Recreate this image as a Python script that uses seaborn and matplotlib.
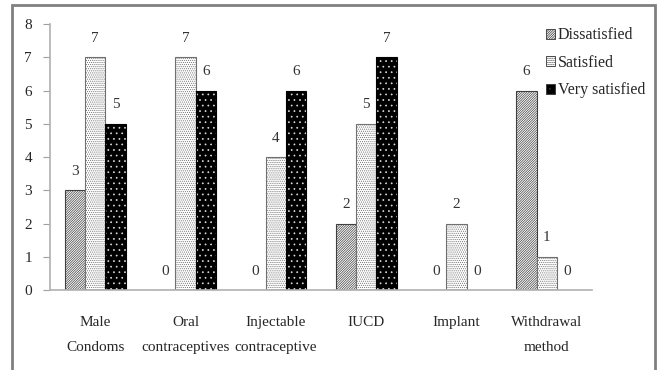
import matplotlib
matplotlib.use("Agg")
import matplotlib.pyplot as plt
from matplotlib.patches import Rectangle
import seaborn as sns
import pandas as pd

# data
methods = ["Male\nCondoms", "Oral\ncontraceptives", "Injectable\ncontraceptive",
           "IUCD", "Implant", "Withdrawal\nmethod"]
levels = ["Dissatisfied", "Satisfied", "Very satisfied"]
dissatisfied = [3, 0, 0, 2, 0, 6]
satisfied = [7, 7, 4, 5, 2, 1]
very_satisfied = [5, 6, 6, 7, 0, 0]

df = pd.DataFrame({
    "method": methods * 3,
    "level": [levels[0]] * 6 + [levels[1]] * 6 + [levels[2]] * 6,
    "count": dissatisfied + satisfied + very_satisfied,
})

sns.set_style("white")
plt.rcParams["font.family"] = ["Liberation Serif", "DejaVu Serif"]
plt.rcParams["hatch.linewidth"] = 0.5

fig = plt.figure(figsize=(6.6, 3.7), dpi=100)
ax = fig.add_axes([0.0758, 0.2162, 0.8212, 0.7189])

sns.barplot(data=df, x="method", y="count", hue="level", order=methods,
            hue_order=levels, palette=["white", "white", "black"],
            width=0.675, ax=ax, legend=False)

hatches = ["/" * 14, "." * 8, "..."]
for i, cont in enumerate(ax.containers):
    for p in cont:
        if i == 0:
            p.set_edgecolor("#404040")
            p.set_hatch(hatches[0])
            p.set_linewidth(0.8)
        elif i == 1:
            p.set_edgecolor("#707070")
            p.set_hatch(hatches[1])
            p.set_linewidth(0.8)
        else:
            # white dots on black, outline drawn on top
            p.set_edgecolor("#dddddd")
            p.set_hatch(hatches[2])
            p.set_linewidth(0)
            if p.get_height() > 0:
                ax.add_patch(Rectangle(p.get_xy(), p.get_width(), p.get_height(),
                                       fill=False, edgecolor="black", lw=0.8))
    ax.bar_label(cont, padding=9, fontsize=11, color="#333333")

ax.set_ylim(0, 8)
ax.set_xlim(-0.5, 5.5)
ax.set_yticks(range(0, 9))
ax.set_xlabel("")
ax.set_ylabel("")
ax.set_xticks([x - 0.5 for x in range(7)], minor=True)
ax.tick_params(axis="x", which="major", length=0, pad=19, labelsize=11)
ax.tick_params(axis="x", which="minor", length=5, color="#a0a0a0", direction="out")
ax.tick_params(axis="y", length=5, color="#a0a0a0", pad=8, labelsize=11,
               direction="out", left=True)
for lab in ax.get_xticklabels():
    lab.set_linespacing(2.2)
sns.despine(ax=ax)
for s in ["left", "bottom"]:
    ax.spines[s].set_color("#b0b0b0")
    ax.spines[s].set_linewidth(1.2)

# legend
handles = []
for i, lev in enumerate(levels):
    handles.append(Rectangle((0, 0), 1, 1,
                             facecolor=["white", "white", "black"][i],
                             edgecolor="#333333", hatch=hatches[i], lw=0.6))
fig.legend(handles, levels, loc="upper left", bbox_to_anchor=(0.805, 0.965),
           frameon=False, fontsize=11.5, handlelength=0.6, handleheight=0.6,
           handletextpad=0.15, labelspacing=0.72)

# outer frame
fig.patches.append(Rectangle((12 / 660, -0.05), 643 / 660, 1 - 5 / 370 + 0.05,
                             transform=fig.transFigure, fill=False,
                             edgecolor="#808080", lw=2))

fig.savefig("out.png", dpi=100)
